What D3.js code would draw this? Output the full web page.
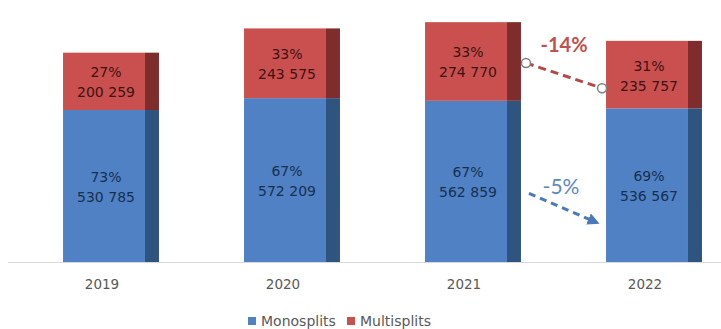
<!DOCTYPE html>
<html><head><meta charset="utf-8">
<script src="https://cdn.jsdelivr.net/npm/d3@7/dist/d3.min.js"></script>
<style>body{margin:0;background:#fff}svg{display:block}</style>
</head><body><svg id="c" width="721" height="329"></svg>
<script>
const years = ["2019","2020","2021","2022"];
const mono = [530785, 572209, 562859, 536567];
const multi = [200259, 243575, 274770, 235757];
const monoPct = ["73%","67%","67%","69%"];
const multiPct = ["27%","33%","33%","31%"];
const seriesNames = ["Monosplits","Multisplits"];
// annotation anchors (category, value)
const multiChange = {label:"-14%", from:["2021",695000], to:["2022",607000]};
const monoChange = {label:"-5%", from:["2021",240000], to:["2022",142000]};

const fmt = v => d3.format(",")(v).replace(/,/g," ");
const svg = d3.select("#c");
const x = d3.scaleBand().domain(years).range([20.5,744.5]).paddingInner(0.47).paddingOuter(0.235);
const y = d3.scaleLinear().domain([0,915000]).range([262,0]);
const bw = x.bandwidth(), side = 14, front = bw - side;
const C = {blue:"#4f81c4", blueSide:"#2f5480", red:"#c9504e", redSide:"#7e2d2c",
  blueTxt:"#17304f", redTxt:"#3d1212", axis:"#595959"};

// axis line
svg.append("line").attr("x1",8).attr("x2",721).attr("y1",y(0)+0.5).attr("y2",y(0)+0.5)
  .attr("stroke","#d9d9d9").attr("stroke-width",1);

const g = svg.append("g").selectAll("g").data(years).join("g");
g.each(function(yr,i){
  const s = d3.select(this), x0 = x(yr);
  const segs = [
    {v0:0, v1:mono[i], f:C.blue, sd:C.blueSide, t:C.blueTxt, p:monoPct[i], val:mono[i]},
    {v0:mono[i], v1:mono[i]+multi[i], f:C.red, sd:C.redSide, t:C.redTxt, p:multiPct[i], val:multi[i]}
  ];
  segs.forEach(d=>{
    s.append("rect").attr("x",x0).attr("y",y(d.v1)).attr("width",front).attr("height",y(d.v0)-y(d.v1)).attr("fill",d.f);
    s.append("rect").attr("x",x0+front).attr("y",y(d.v1)).attr("width",side).attr("height",y(d.v0)-y(d.v1)).attr("fill",d.sd);
    const cy = (y(d.v0)+y(d.v1))/2 + 1;
    const t = s.append("text").attr("x",x0+front/2+2).attr("text-anchor","middle")
      .attr("font-family","DejaVu Sans, Verdana, sans-serif").attr("font-size",14).attr("fill",d.t);
    t.append("tspan").attr("x",x0+front/2+2).attr("y",cy-10).attr("dominant-baseline","central").text(d.p);
    t.append("tspan").attr("x",x0+front/2+2).attr("y",cy+10).attr("dominant-baseline","central").text(fmt(d.val));
  });
  s.append("text").attr("x",x0+front/2-2).attr("y",284).attr("dominant-baseline","central")
    .attr("text-anchor","middle").attr("font-family","DejaVu Sans, Verdana, sans-serif")
    .attr("font-size",13.5).attr("fill",C.axis).text(yr);
});

// red change
const r1 = [x(multiChange.from[0])+bw+5, y(multiChange.from[1])];
const r2 = [x(multiChange.to[0])-4, y(multiChange.to[1])];
svg.append("line").attr("x1",r1[0]).attr("y1",r1[1]).attr("x2",r2[0]-3).attr("y2",r2[1]-1)
  .attr("stroke","#b84846").attr("stroke-width",3).attr("stroke-dasharray","8,5");
[r1,r2].forEach(p=>svg.append("circle").attr("cx",p[0]).attr("cy",p[1]).attr("r",4.5)
  .attr("fill","#fff").attr("stroke","#7f7f7f").attr("stroke-width",1.5));
svg.append("text").attr("x",(r1[0]+r2[0])/2).attr("y",44).attr("dominant-baseline","central")
  .attr("text-anchor","middle").attr("font-family","Lato, sans-serif").attr("font-weight","bold")
  .attr("font-size",20).attr("fill","#bf514e").text(multiChange.label);

// blue change
const b1 = [x(monoChange.from[0])+bw+8, y(monoChange.from[1])];
const b2 = [x(monoChange.to[0])-12, y(monoChange.to[1])];
svg.append("defs").append("marker").attr("id","ah").attr("viewBox","0 0 10 10").attr("refX",5).attr("refY",5)
  .attr("markerWidth",4).attr("markerHeight",4).attr("orient","auto")
  .append("path").attr("d","M0,0L10,5L0,10Z").attr("fill","#4a78b8");
svg.append("line").attr("x1",b1[0]).attr("y1",b1[1]).attr("x2",b2[0]).attr("y2",b2[1])
  .attr("stroke","#4a78b8").attr("stroke-width",3).attr("stroke-dasharray","7,5").attr("marker-end","url(#ah)");
svg.append("text").attr("x",561).attr("y",185).attr("dominant-baseline","central")
  .attr("text-anchor","middle").attr("font-family","Lato, sans-serif")
  .attr("font-size",21).attr("fill","#5b88c4").text(monoChange.label);

// legend
const leg = svg.append("g").attr("font-family","DejaVu Sans, Verdana, sans-serif").attr("font-size",14).attr("fill",C.axis);
const lx = [248, 347];
[C.blue, C.red].forEach((c,i)=>{
  leg.append("rect").attr("x",lx[i]).attr("y",317).attr("width",8).attr("height",8).attr("fill",c);
  leg.append("text").attr("x",lx[i]+13).attr("y",325.5).text(seriesNames[i]);
});
</script></body></html>
